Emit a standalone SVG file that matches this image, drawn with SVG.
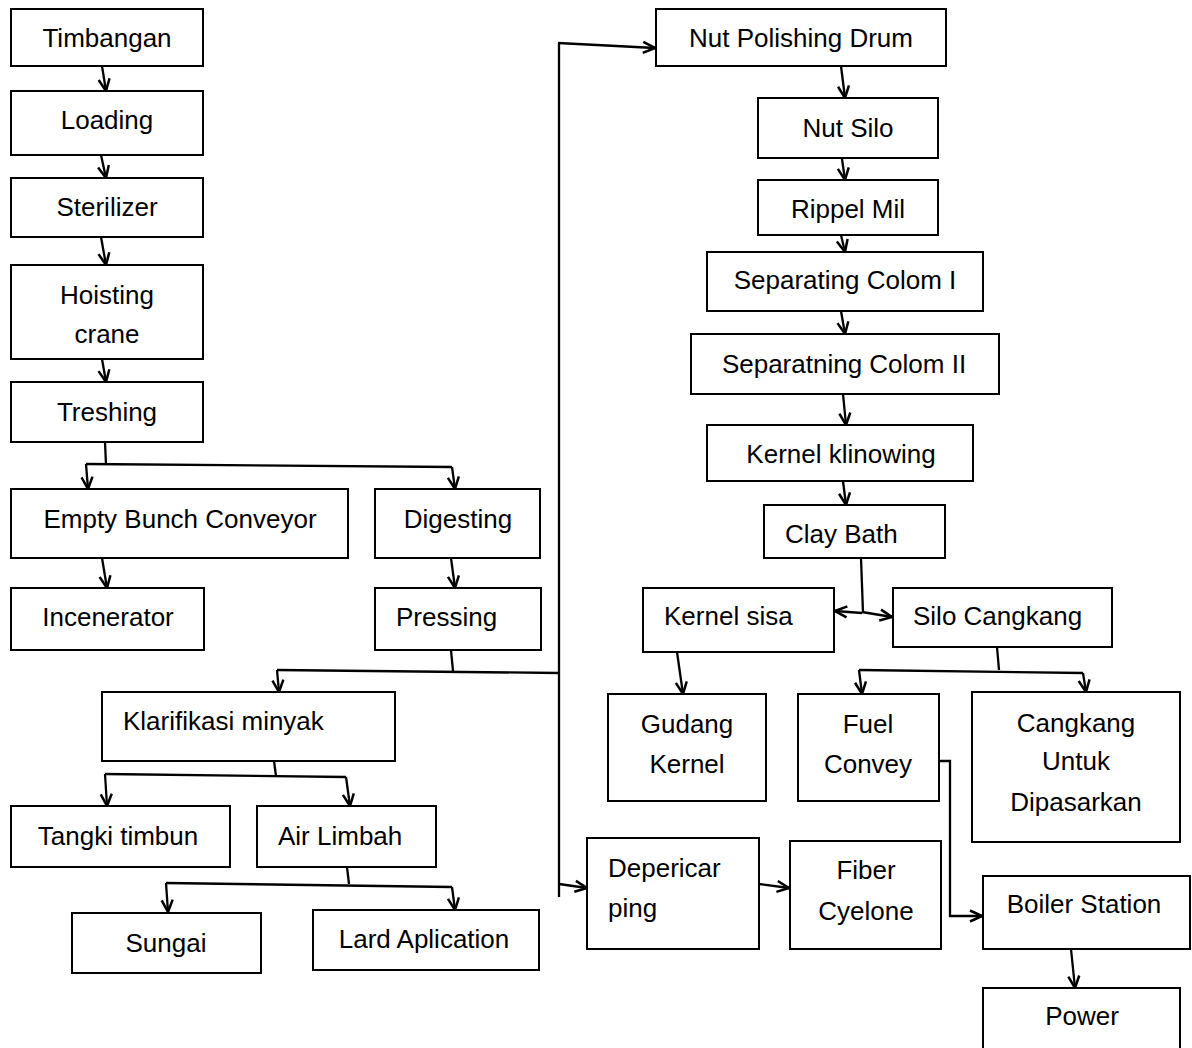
<svg xmlns="http://www.w3.org/2000/svg" width="1192" height="1048" viewBox="0 0 1192 1048">
<defs>
<marker id="arr" viewBox="0 0 14 14" refX="13" refY="7" markerWidth="14" markerHeight="14" markerUnits="userSpaceOnUse" orient="auto">
<path d="M1,1.5 L13,7 L1,12.5" fill="none" stroke="#000" stroke-width="2.5"/>
</marker>
<style>
rect{fill:#fff;stroke:#000;stroke-width:2}
text{font-family:"Liberation Sans",Arial,sans-serif;font-size:26px;fill:#000}
.c{text-anchor:middle}
#connectors path{fill:none;stroke:#000;stroke-width:2.3}
#connectors path.a{marker-end:url(#arr)}
</style>
</defs>
<rect x="0" y="0" width="1192" height="1048" style="fill:#fff;stroke:none"/>
<g id="connectors">
<path class="a" d="M102,66 L106,91"/>
<path class="a" d="M101,155 L106,178"/>
<path class="a" d="M101,237 L106,265"/>
<path class="a" d="M102,359 L106,382"/>
<path d="M105,442 L106,465"/>
<path d="M86,464 L452,467"/>
<path class="a" d="M86,464 L88,489"/>
<path class="a" d="M452,467 L455,489"/>
<path class="a" d="M102,558 L107,588"/>
<path class="a" d="M451,558 L455,588"/>
<path d="M451,650 L453,671"/>
<path d="M277,670 L559,673"/>
<path class="a" d="M277,670 L279,692"/>
<path d="M559,43 L559,897"/>
<path class="a" d="M558,43 L655,48"/>
<path class="a" d="M559,884 L587,888"/>
<path d="M274,761 L276,776"/>
<path d="M105,774 L346,777"/>
<path class="a" d="M105,774 L107,806"/>
<path class="a" d="M346,777 L350,806"/>
<path d="M347,867 L349,884"/>
<path d="M166,883 L452,887"/>
<path class="a" d="M166,883 L168,912"/>
<path class="a" d="M452,887 L455,910"/>
<path class="a" d="M841,66 L845,98"/>
<path class="a" d="M841,152 L845,180"/>
<path class="a" d="M841,235 L845,252"/>
<path class="a" d="M841,311 L845,334"/>
<path class="a" d="M843,394 L846,425"/>
<path class="a" d="M843,481 L846,505"/>
<path d="M861,558 L863,613"/>
<path class="a" d="M862,613 L835,611"/>
<path class="a" d="M862,612 L892,617"/>
<path class="a" d="M677,652 L683,694"/>
<path d="M997,647 L999,670"/>
<path d="M859,670 L1083,673"/>
<path class="a" d="M859,670 L862,694"/>
<path class="a" d="M1083,673 L1086,692"/>
<path class="a" d="M939,761 L950,761 L950,916 L982,916"/>
<path class="a" d="M759,884 L789,888"/>
<path class="a" d="M1071,949 L1075,988"/>
</g>
<g id="timbangan"><rect x="11" y="9" width="192" height="57"/><text class="c" x="107" y="47">Timbangan</text></g>
<g id="loading"><rect x="11" y="91" width="192" height="64"/><text class="c" x="107" y="129">Loading</text></g>
<g id="sterilizer"><rect x="11" y="178" width="192" height="59"/><text class="c" x="107" y="216">Sterilizer</text></g>
<g id="hoisting"><rect x="11" y="265" width="192" height="94"/><text class="c" x="107" y="304">Hoisting</text><text class="c" x="107" y="343">crane</text></g>
<g id="treshing"><rect x="11" y="382" width="192" height="60"/><text class="c" x="107" y="421">Treshing</text></g>
<g id="ebc"><rect x="11" y="489" width="337" height="69"/><text class="c" x="180" y="528">Empty Bunch Conveyor</text></g>
<g id="digesting"><rect x="375" y="489" width="165" height="69"/><text class="c" x="458" y="528">Digesting</text></g>
<g id="incenerator"><rect x="11" y="588" width="193" height="62"/><text class="c" x="108" y="626">Incenerator</text></g>
<g id="pressing"><rect x="375" y="588" width="166" height="62"/><text x="396" y="626">Pressing</text></g>
<g id="klarifikasi"><rect x="102" y="692" width="293" height="69"/><text x="123" y="730">Klarifikasi minyak</text></g>
<g id="tangki"><rect x="11" y="806" width="219" height="61"/><text class="c" x="118" y="845">Tangki timbun</text></g>
<g id="airlimbah"><rect x="257" y="806" width="179" height="61"/><text x="278" y="845">Air Limbah</text></g>
<g id="sungai"><rect x="72" y="913" width="189" height="60"/><text class="c" x="166" y="952">Sungai</text></g>
<g id="lard"><rect x="313" y="910" width="226" height="60"/><text class="c" x="424" y="948">Lard Aplication</text></g>
<g id="npd"><rect x="656" y="9" width="290" height="57"/><text class="c" x="801" y="47">Nut Polishing Drum</text></g>
<g id="nutsilo"><rect x="758" y="98" width="180" height="60"/><text class="c" x="848" y="137">Nut Silo</text></g>
<g id="rippel"><rect x="758" y="180" width="180" height="55"/><text class="c" x="848" y="218">Rippel Mil</text></g>
<g id="sep1"><rect x="707" y="252" width="276" height="59"/><text class="c" x="845" y="289">Separating Colom I</text></g>
<g id="sep2"><rect x="691" y="334" width="308" height="60"/><text class="c" x="844" y="373">Separatning Colom II</text></g>
<g id="kernelk"><rect x="707" y="425" width="266" height="56"/><text class="c" x="841" y="463">Kernel klinowing</text></g>
<g id="clay"><rect x="764" y="505" width="181" height="53"/><text x="785" y="543">Clay Bath</text></g>
<g id="kernelsisa"><rect x="643" y="588" width="191" height="64"/><text x="664" y="625">Kernel sisa</text></g>
<g id="silocangkang"><rect x="893" y="588" width="219" height="59"/><text x="913" y="625">Silo Cangkang</text></g>
<g id="gudang"><rect x="608" y="694" width="158" height="107"/><text class="c" x="687" y="733">Gudang</text><text class="c" x="687" y="773">Kernel</text></g>
<g id="fuel"><rect x="798" y="694" width="141" height="107"/><text class="c" x="868" y="733">Fuel</text><text class="c" x="868" y="773">Convey</text></g>
<g id="cangkang"><rect x="972" y="692" width="208" height="150"/><text class="c" x="1076" y="732">Cangkang</text><text class="c" x="1076" y="770">Untuk</text><text class="c" x="1076" y="811">Dipasarkan</text></g>
<g id="depericar"><rect x="587" y="838" width="172" height="111"/><text x="608" y="877">Depericar</text><text x="608" y="917">ping</text></g>
<g id="fiber"><rect x="790" y="841" width="151" height="108"/><text class="c" x="866" y="879">Fiber</text><text class="c" x="866" y="920">Cyelone</text></g>
<g id="boiler"><rect x="983" y="876" width="207" height="73"/><text class="c" x="1084" y="913">Boiler Station</text></g>
<g id="power"><rect x="983" y="988" width="197" height="80"/><text class="c" x="1082" y="1025">Power</text></g>
</svg>
